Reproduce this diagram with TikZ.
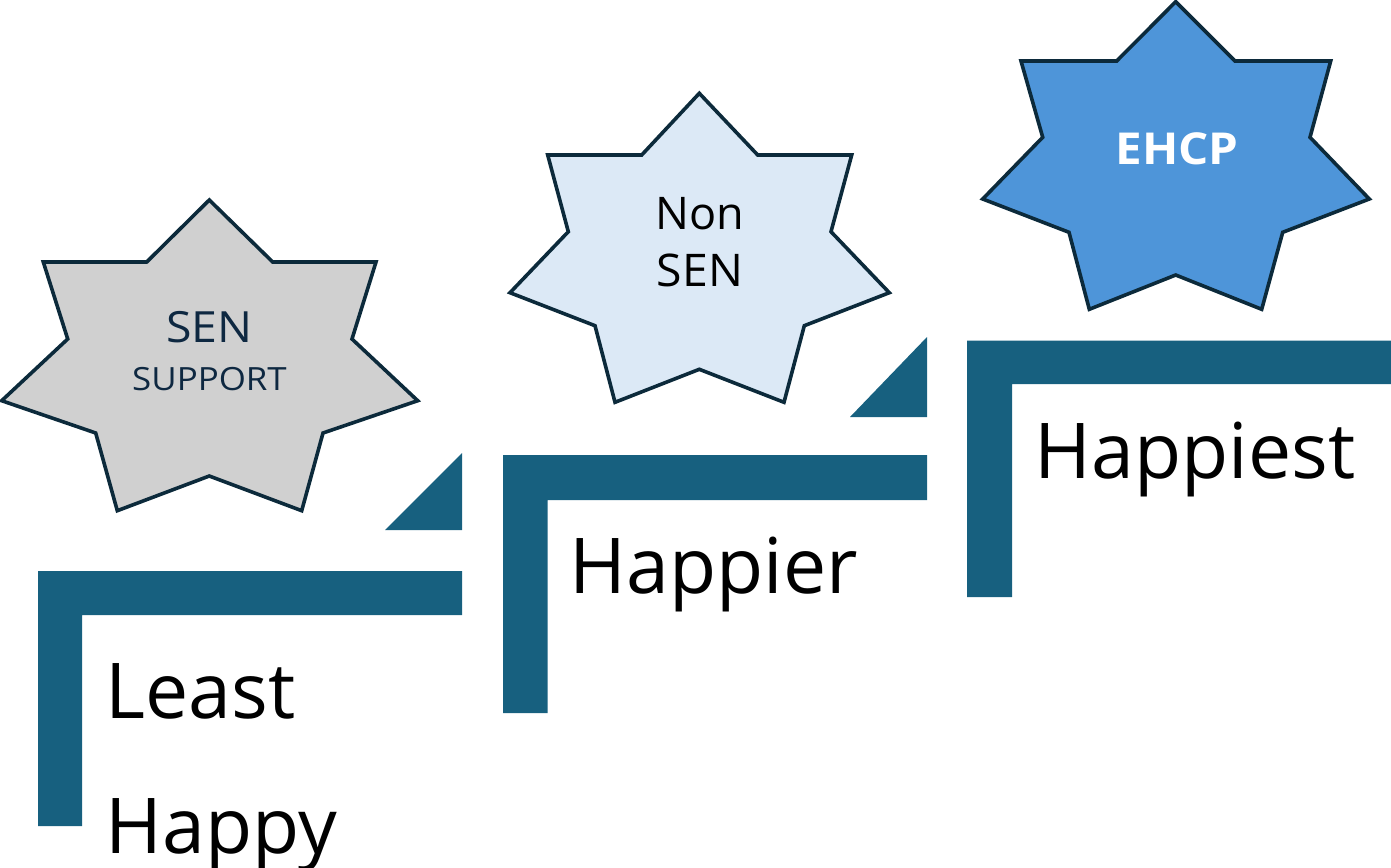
\documentclass[tikz,border=0pt]{standalone}
\usepackage{fontspec}
\setmainfont{Open Sans}
\definecolor{stepteal}{HTML}{17607F}
\definecolor{staredge}{HTML}{0C2A3B}
\definecolor{stargray}{HTML}{D0D0D0}
\definecolor{starpale}{HTML}{DCE9F6}
\definecolor{starblue}{HTML}{4E95D9}
\definecolor{navytext}{HTML}{0E2841}
\begin{document}
\begin{tikzpicture}[x=1pt,y=-1pt,
  starshape/.style={draw=staredge,line width=3.6pt,line join=miter},
  stepbar/.style={fill=stepteal},
  steplabel/.style={anchor=base west,inner sep=0pt,font=\fontsize{77}{92}\selectfont},
  startext/.style={anchor=base,inner sep=0pt}]
\path[use as bounding box] (0,0) rectangle (1391,867);

% --- seven-pointed stars ---
\draw[starshape,fill=stargray]
  (209.3,200) -- (272.7,262) -- (376,262) -- (352,339) -- (417.7,400.7)
  -- (323,433) -- (301.7,510.7) -- (209.3,476) -- (117.3,510.7) -- (95.7,433)
  -- (1.7,400.7) -- (67.7,339) -- (43.3,262) -- (146.7,262) -- cycle;
\draw[starshape,fill=starpale]
  (699.3,93.3) -- (757.7,155) -- (851.7,155) -- (831,231.7) -- (889.3,292.7)
  -- (804.3,325.7) -- (784,402.3) -- (699.3,369.3) -- (615,402.3) -- (595,325.7)
  -- (510,292.7) -- (568.3,231.7) -- (547.7,155) -- (641.7,155) -- cycle;
\draw[starshape,fill=starblue]
  (1175.7,1.7) -- (1235,61) -- (1330.7,61) -- (1310,137.3) -- (1369.3,199)
  -- (1282.7,232.3) -- (1261.7,309.3) -- (1175.7,275) -- (1089.3,309.3) -- (1069,232.3)
  -- (982.7,199) -- (1042.7,137.3) -- (1021,61) -- (1116.7,61) -- cycle;

% star labels
\node[startext,text=navytext,font=\fontsize{43}{52}\selectfont\addfontfeature{FakeStretch=1.08}] (senA) at (209.5,342) {SEN};
\node[startext,text=navytext,font=\fontsize{32}{38}\selectfont\addfontfeature{FakeStretch=1.09}] (support) at (209.5,390) {SUPPORT};
\node[startext,font=\fontsize{45}{54}\selectfont] (non) at (700,229) {Non};
\node[startext,font=\fontsize{45}{54}\selectfont\addfontfeature{FakeStretch=1.03}] (senB) at (700,286) {SEN};
\node[startext,text=white,font=\fontsize{44}{52}\selectfont\bfseries\addfontfeature{FakeStretch=1.08}] (ehcp) at (1177,164) {EHCP};

% --- steps ---
\fill[stepbar] (38,571) -- (462,571) -- (462,615) -- (82,615) -- (82,826) -- (38,826) -- cycle;
\fill[stepbar] (503,455) -- (927,455) -- (927,500) -- (547.5,500) -- (547.5,713) -- (503,713) -- cycle;
\fill[stepbar] (967,340.5) -- (1391,340.5) -- (1391,384) -- (1012,384) -- (1012,597) -- (967,597) -- cycle;

% corner wedges
\fill[stepbar] (462,453) -- (462,530) -- (385,530) -- cycle;
\fill[stepbar] (927,337) -- (927,417) -- (850,417) -- cycle;

% step labels
\node[steplabel] (least) at (105.5,718) {Least};
\node[steplabel] (happy) at (105.5,853) {Happy};
\node[steplabel] (happier) at (569.5,593) {Happier};
\node[steplabel] (happiest) at (1034.5,478) {Happiest};
\end{tikzpicture}
\end{document}
